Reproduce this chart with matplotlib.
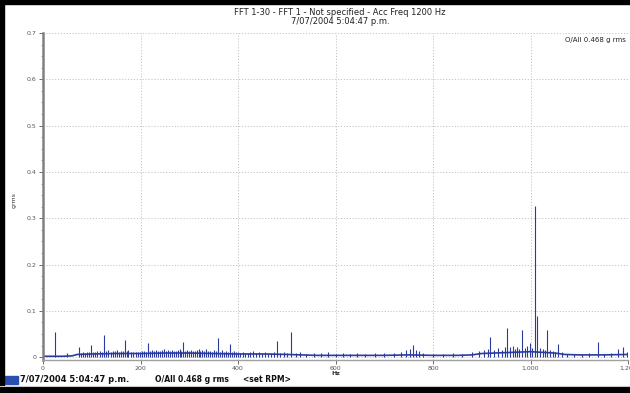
import matplotlib.pyplot as plt
from matplotlib.patches import Rectangle
from matplotlib.ticker import MultipleLocator, FuncFormatter

# spectrum floor (Hz, g rms)
floor_hz = [0, 20, 40, 60, 70, 100, 150, 200, 250, 300, 350, 400, 450, 500, 530,
            560, 600, 650, 700, 750, 800, 850, 880, 900, 950, 1000, 1050, 1070,
            1100, 1150, 1200]
floor_g = [0.002, 0.002, 0.002, 0.003, 0.006, 0.007, 0.008, 0.008, 0.009, 0.009,
           0.008, 0.007, 0.007, 0.006, 0.005, 0.004, 0.004, 0.004, 0.004, 0.005,
           0.004, 0.004, 0.005, 0.008, 0.010, 0.012, 0.009, 0.006, 0.005, 0.005,
           0.006]

# discrete peaks
peak_hz = [25, 49, 74, 78, 82, 86, 90, 94, 98, 103, 107, 111, 116, 120, 125, 130,
           134, 139, 144, 148, 152, 156, 160, 164, 168, 172, 175, 180, 184, 190,
           195, 199, 203, 207, 211, 215, 220, 224, 228, 232, 236, 240, 244, 248,
           252, 256, 260, 264, 268, 272, 276, 280, 284, 287, 291, 295, 299, 303,
           307, 311, 315, 319, 323, 327, 331, 335, 339, 343, 347, 351, 355, 359,
           363, 367, 371, 376, 380, 384, 388, 392, 396, 401, 405, 410, 415, 420,
           425, 431, 437, 443, 449, 455, 461, 467, 474, 480, 487, 494, 501, 509,
           518, 527, 540, 555, 570, 585, 600, 615, 630, 645, 660, 680, 700, 720,
           735, 745, 752, 759, 766, 772, 780, 800, 820, 840, 860, 880, 895, 905,
           912, 917, 925, 933, 942, 947, 952, 958, 964, 968, 972, 977, 982, 988,
           993, 999, 1004, 1010, 1014, 1020, 1026, 1030, 1034, 1040, 1046, 1051,
           1056, 1064, 1075, 1090, 1105, 1120, 1138, 1150, 1165, 1179, 1190, 1198]
peak_g = [0.054, 0.009, 0.022, 0.010, 0.012, 0.010, 0.011, 0.012, 0.026, 0.011,
          0.012, 0.013, 0.014, 0.012, 0.048, 0.013, 0.015, 0.012, 0.013, 0.014,
          0.015, 0.012, 0.014, 0.013, 0.037, 0.013, 0.015, 0.012, 0.012, 0.011,
          0.012, 0.012, 0.013, 0.014, 0.012, 0.030, 0.013, 0.015, 0.014, 0.016,
          0.013, 0.014, 0.015, 0.017, 0.013, 0.015, 0.014, 0.016, 0.013, 0.014,
          0.015, 0.018, 0.014, 0.032, 0.013, 0.015, 0.014, 0.016, 0.013, 0.014,
          0.015, 0.017, 0.013, 0.015, 0.014, 0.018, 0.013, 0.014, 0.012, 0.016,
          0.013, 0.041, 0.012, 0.015, 0.012, 0.013, 0.012, 0.028, 0.011, 0.014,
          0.011, 0.012, 0.010, 0.012, 0.010, 0.010, 0.011, 0.013, 0.010, 0.011,
          0.010, 0.012, 0.010, 0.010, 0.011, 0.034, 0.010, 0.012, 0.010, 0.054,
          0.010, 0.012, 0.007, 0.009, 0.010, 0.012, 0.008, 0.010, 0.007, 0.009,
          0.008, 0.010, 0.009, 0.010, 0.012, 0.015, 0.018, 0.026, 0.016, 0.013,
          0.010, 0.006, 0.008, 0.010, 0.008, 0.011, 0.013, 0.016, 0.018, 0.044,
          0.015, 0.020, 0.016, 0.022, 0.063, 0.022, 0.025, 0.018, 0.022, 0.018,
          0.059, 0.020, 0.025, 0.030, 0.020, 0.326, 0.090, 0.020, 0.018, 0.015,
          0.058, 0.015, 0.014, 0.012, 0.028, 0.012, 0.008, 0.007, 0.008, 0.009,
          0.033, 0.008, 0.010, 0.018, 0.022, 0.012]

title = "FFT 1-30 - FFT 1 - Not specified - Acc Freq 1200 Hz\n7/07/2004 5:04:47 p.m."
overall = "O/All 0.468 g rms"
stamp = "7/07/2004 5:04:47 p.m."
line_color = "#2b3a9e"

fig = plt.figure(figsize=(6.3, 3.93), dpi=100)
ax = fig.add_axes([43 / 630, 1 - 360 / 393, 585 / 630, 327 / 393])

ax.plot(floor_hz, floor_g, color=line_color, lw=1.2)
ax.vlines(peak_hz, 0, peak_g, color=line_color, lw=0.8)

ax.set_xlim(0, 1200)
ax.set_ylim(-0.006, 0.7)
ax.xaxis.set_major_locator(MultipleLocator(200))
ax.yaxis.set_major_locator(MultipleLocator(0.1))
ax.yaxis.set_minor_locator(MultipleLocator(0.025))
ax.xaxis.set_major_formatter(FuncFormatter(lambda v, p: f"{v:,.0f}"))
ax.yaxis.set_major_formatter(FuncFormatter(lambda v, p: "0" if v == 0 else f"{v:.1f}"))
ax.grid(True, color="#c4c4c4", ls=(0, (1.2, 1.8)), lw=0.7)
ax.tick_params(labelsize=4.5, colors="#555555", length=3, width=0.6, pad=1.5)
ax.tick_params(which="minor", length=1.5, width=0.5, colors="#888888")
for s in ["top", "right"]:
    ax.spines[s].set_visible(False)
ax.spines["left"].set_color("#808080")
ax.spines["left"].set_linewidth(1.8)
ax.spines["bottom"].set_color("#a0a0a0")
ax.spines["bottom"].set_linewidth(1.0)
ax.set_xlabel("Hz", fontsize=4.5, fontweight="bold", labelpad=0, color="#333333")
ax.set_ylabel("grms", fontsize=4.5, color="#333333")
ax.yaxis.set_label_coords(-26 / 585, 0.49)

fig.text(340 / 630, 1 - 17 / 393, title, ha="center", va="center",
         fontsize=6, linespacing=1.0, color="#222222")
fig.text(626 / 630, 1 - 40 / 393, overall, ha="right", va="center",
         fontsize=5, color="#222222")

# legend strip at the bottom
fig.add_artist(Rectangle((5 / 630, 1 - 384 / 393), 13 / 630, 8 / 393,
                         transform=fig.transFigure, color="#2b4fb0"))
fig.text(20 / 630, 1 - 380 / 393, stamp, ha="left", va="center",
         fontsize=6, fontweight="bold", color="#111111")
fig.text(155 / 630, 1 - 380 / 393, overall, ha="left", va="center",
         fontsize=5.5, fontweight="bold", color="#111111")
fig.text(243 / 630, 1 - 380 / 393, "<set RPM>", ha="left", va="center",
         fontsize=5.5, fontweight="bold", color="#111111")

# window frame
fig.add_artist(plt.Line2D([0, 1], [1 - 385.5 / 393] * 2, transform=fig.transFigure,
                          color="#c8c8c8", lw=0.8))
fig.add_artist(Rectangle((0, 0), 1, 6 / 393, transform=fig.transFigure, color="black"))
fig.add_artist(Rectangle((0, 1 - 4 / 393), 1, 4 / 393, transform=fig.transFigure, color="black"))
fig.add_artist(Rectangle((0, 0), 4 / 630, 1, transform=fig.transFigure, color="black"))

fig.savefig("out.png", dpi=100)
